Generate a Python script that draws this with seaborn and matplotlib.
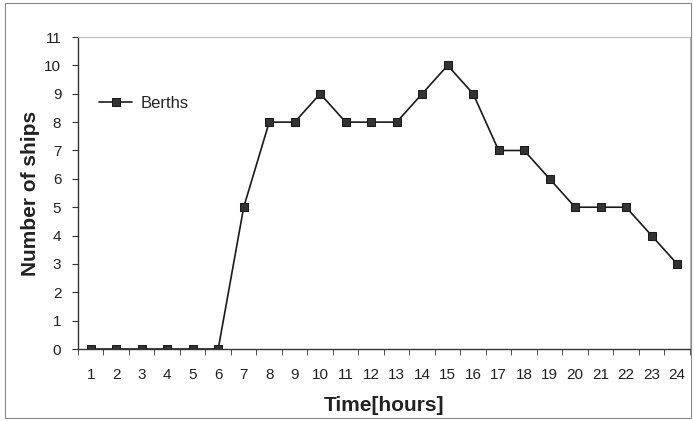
import matplotlib
matplotlib.use("Agg")
import matplotlib.pyplot as plt
import seaborn as sns
import pandas as pd
from matplotlib.patches import Rectangle

hours = list(range(1, 25))
berths = [0, 0, 0, 0, 0, 0, 5, 8, 8, 9, 8, 8, 8, 9, 10, 9, 7, 7, 6, 5, 5, 5, 4, 3]
y_ticks = list(range(0, 12))

sns.set_style("white")
plt.rcParams['font.family'] = ['Liberation Sans', 'DejaVu Sans']

df = pd.DataFrame({"pos": range(len(hours)), "Berths": berths})

fig = plt.figure(figsize=(6.94, 4.21), dpi=100)
ax = fig.add_axes([0.1124, 0.171, 0.8816, 0.741])

sns.lineplot(data=df, x="pos", y="Berths", ax=ax, color="#1a1a1a", linewidth=1.2,
             marker="s", markersize=5.5, markeredgecolor="#1a1a1a",
             markerfacecolor="#333333", label="Berths")

ax.set_xlim(-0.5, len(hours) - 0.5)
ax.set_ylim(0, 11)
ax.set_xticks(range(len(hours)))
ax.set_xticklabels([str(h) for h in hours], fontsize=11, color="#222222")
ax.set_xticks([i - 0.5 for i in range(len(hours) + 1)], minor=True)
ax.tick_params(axis="x", which="major", length=0, pad=14)
ax.tick_params(axis="x", which="minor", length=4, direction="out", color="#333333", bottom=True)
ax.set_yticks(y_ticks)
ax.set_yticklabels([str(v) for v in y_ticks], fontsize=11, color="#222222")
ax.tick_params(axis="y", which="major", length=4, direction="out", color="#333333", left=True, pad=8)

for s in ["left", "bottom"]:
    ax.spines[s].set_color("#333333")
    ax.spines[s].set_linewidth(1.0)
for s in ["top", "right"]:
    ax.spines[s].set_color("#bbbbbb")
    ax.spines[s].set_linewidth(0.8)

ax.set_xlabel("Time[hours]", fontsize=15, fontweight="bold", color="#222222", labelpad=10)
ax.set_ylabel("Number of ships", fontsize=15, fontweight="bold", color="#222222", labelpad=3)

leg = ax.legend(loc="upper left", bbox_to_anchor=(0.01, 0.86), frameon=False, fontsize=12,
                handlelength=2.0, handletextpad=0.5)

fig.patches.append(Rectangle((0.007, 0.007), 0.988, 0.986, transform=fig.transFigure,
                             fill=False, edgecolor="#888888", linewidth=0.8))

fig.savefig("out.png", dpi=100)
